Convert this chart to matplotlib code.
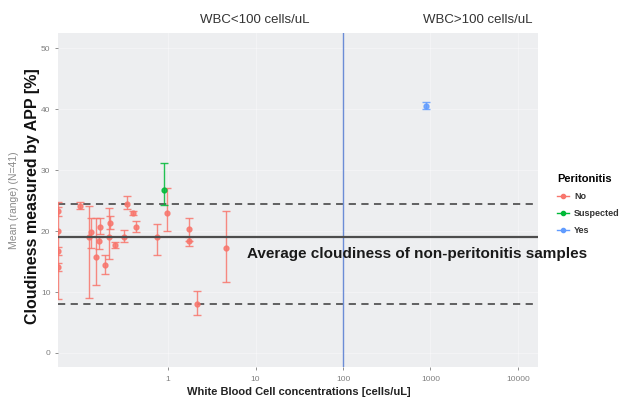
import matplotlib
matplotlib.use("Agg")
import matplotlib.pyplot as plt
from matplotlib.lines import Line2D
import numpy as np

plt.rcParams['font.family'] = ['Liberation Sans', 'DejaVu Sans']

# ---- data ----
wbc = [0.055, 0.055, 0.055, 0.055,
       0.099, 0.126, 0.131, 0.150, 0.167, 0.164, 0.19, 0.208, 0.214, 0.248,
       0.309, 0.337, 0.395, 0.43, 0.755, 0.90, 0.97, 1.75, 1.71, 2.13, 4.6, 900]
mean = [23.3, 20.0, 16.7, 14.1,
        24.1, 19.0, 19.9, 15.7, 20.6, 18.4, 14.4, 19.0, 21.4, 17.7,
        19.1, 24.4, 23.0, 20.6, 19.1, 26.7, 22.9, 20.4, 18.4, 8.1, 17.2, 40.5]
low = [22.5, 8.9, 16.0, 13.4,
       23.6, 9.1, 17.3, 11.1, 19.5, 17.1, 13.0, 15.4, 20.3, 17.2,
       18.2, 23.6, 22.7, 19.8, 16.0, 24.2, 20.0, 18.4, 17.5, 6.2, 11.6, 40.0]
high = [24.0, 24.7, 17.4, 14.8,
        24.7, 24.1, 22.2, 22.2, 22.2, 19.0, 16.0, 23.8, 22.5, 18.2,
        20.1, 25.7, 23.3, 21.7, 21.1, 31.1, 27.1, 22.2, 19.0, 10.1, 23.3, 41.2]
group = ['No'] * 19 + ['Suspected'] + ['No'] * 5 + ['Yes']

avg_non = 19.1
band_hi = 24.4
band_lo = 8.0
cut_wbc = 100
xticks = [1, 10, 100, 1000, 10000]
yticks = [0, 10, 20, 30, 40, 50]
colors = {'No': '#F8766D', 'Suspected': '#00BA38', 'Yes': '#619CFF'}

# ---- figure ----
fig = plt.figure(figsize=(6.23, 3.98), dpi=100)
ax = fig.add_axes([58/623, 1-367/398, 480/623, 334/398])
ax.set_facecolor('#EDEEF0')
ax.set_xscale('log')
ax.set_xlim(0.055, 17000)
ax.set_ylim(-2.3, 52.5)

ax.grid(True, which='major', color='white', lw=0.6, alpha=0.4)
ax.set_axisbelow(True)

ax.axhline(band_hi, color='#555555', lw=1.3, ls=(0, (4, 3)), zorder=2)
ax.axhline(band_lo, color='#555555', lw=1.3, ls=(0, (4, 3)), zorder=2)
ax.axvline(cut_wbc, color='#6B8CD6', lw=1.0, zorder=2)

for g in ['No', 'Suspected', 'Yes']:
    idx = [i for i, gg in enumerate(group) if gg == g]
    xs = np.array([wbc[i] for i in idx])
    ms = np.array([mean[i] for i in idx])
    lo = np.array([low[i] for i in idx])
    hi = np.array([high[i] for i in idx])
    ax.errorbar(xs, ms, yerr=[ms - lo, hi - ms], fmt='o', color=colors[g],
                ms=3.5, elinewidth=1.0, capsize=2.8, capthick=1.0, zorder=3,
                alpha=0.85)

ax.axhline(avg_non, color='#4D4D4D', lw=1.6, zorder=4)

ax.text(8.0, 16.3, 'Average cloudiness of non-peritonitis samples',
        fontsize=11, fontweight='bold', color='#1A1A1A', va='center',
        ha='left', clip_on=False, zorder=5)

for s in ax.spines.values():
    s.set_visible(False)

ax.set_xticks(xticks)
ax.set_xticklabels([str(t) for t in xticks])
ax.xaxis.set_minor_locator(matplotlib.ticker.NullLocator())
ax.set_yticks(yticks)
ax.tick_params(axis='both', labelsize=6, colors='#7F7F7F', length=2.5,
               width=0.6, pad=3)
ax.tick_params(axis='x', pad=4)

fig.text(255/623, 1-20/398, 'WBC<100 cells/uL', fontsize=9.5, color='#333333',
         ha='center', va='center')
fig.text(478/623, 1-20/398, 'WBC>100 cells/uL', fontsize=9.5, color='#333333',
         ha='center', va='center')

fig.text(299/623, 1-392/398, 'White Blood Cell concentrations [cells/uL]',
         fontsize=8, fontweight='bold', color='#222222', ha='center',
         va='center')
fig.text(33/623, 1-196/398, 'Cloudiness measured by APP [%]', fontsize=11.5,
         fontweight='bold', color='#111111', rotation=90, ha='center',
         va='center')
fig.text(14/623, 1-200/398, 'Mean (range) (N=41)', fontsize=7.5, color='#8A8A8A',
         rotation=90, ha='center', va='center')

handles = [Line2D([0], [0], color=colors[g], marker='o', ms=3, lw=1.0)
           for g in ['No', 'Suspected', 'Yes']]
leg = fig.legend(handles, ['No', 'Suspected', 'Yes'], title='Peritonitis',
                 loc='upper left', bbox_to_anchor=(549/623, 1-166/398),
                 frameon=False, fontsize=6.5, title_fontsize=8,
                 handlelength=1.3, handletextpad=0.6, labelspacing=0.9)
leg.get_title().set_fontweight('bold')
leg._legend_box.align = 'left'
for t in leg.get_texts():
    t.set_fontweight('bold')
    t.set_color('#333333')

fig.savefig('out.png', dpi=100)
